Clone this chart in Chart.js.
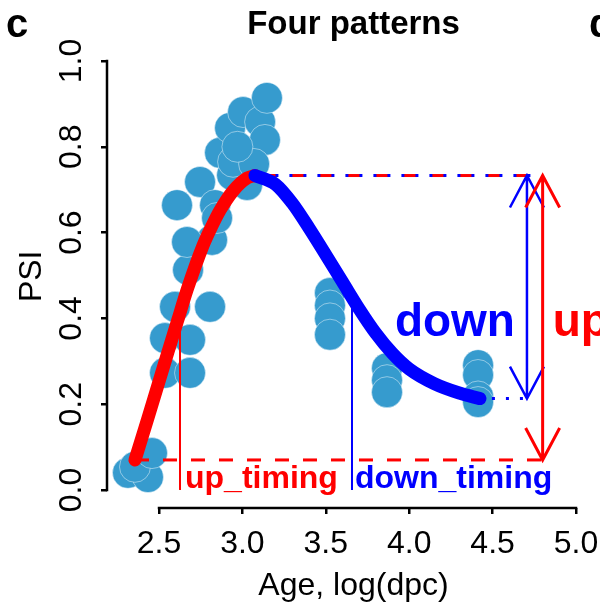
<!DOCTYPE html>
<html>
<head>
<meta charset="utf-8">
<title>Four patterns</title>
<script src="https://cdn.jsdelivr.net/npm/chart.js@4.4.0/dist/chart.umd.min.js"></script>
<style>
  html, body { margin: 0; padding: 0; background: #fff; overflow: hidden; }
</style>
</head>
<body>
<canvas id="patternChart" width="600" height="607"></canvas>
<script>
// samples: age on log(dpc) scale and PSI
var ageLog = [2.314, 2.434, 2.356, 2.458, 2.536, 2.686, 2.536, 2.686, 2.596, 2.806,
              2.674, 2.818, 2.668, 2.608, 2.746, 2.866, 3.028, 2.926, 3.004, 3.106,
              3.147, 3.135, 3.028, 2.836, 2.938, 2.848, 2.944, 3.07, 2.97,
              3.525, 3.525, 3.525, 3.525, 3.867, 3.867, 3.867, 4.413, 4.413, 4.413, 4.413];
var psiValue = [0.040, 0.030, 0.054, 0.086, 0.273, 0.273, 0.354, 0.350, 0.427, 0.427,
                0.513, 0.583, 0.578, 0.664, 0.718, 0.786, 0.788, 0.844, 0.881, 0.858,
                0.914, 0.816, 0.711, 0.664, 0.734, 0.634, 0.765, 0.760, 0.800,
                0.459, 0.430, 0.400, 0.362, 0.284, 0.256, 0.228, 0.291, 0.268, 0.218, 0.205];

// fitted rising part
var upFitAge = [2.356, 2.434, 2.494, 2.554, 2.614, 2.668, 2.764, 2.818, 2.866, 2.944, 3.028, 3.075];
var upFitPsi = [0.070, 0.168, 0.245, 0.322, 0.398, 0.466, 0.570, 0.616, 0.652, 0.697, 0.727, 0.733];

// fitted falling part
var downFitAge = [3.075, 3.20, 3.30, 3.40, 3.50, 3.60, 3.70, 3.80, 3.90, 4.00, 4.15, 4.30, 4.424];
var downFitPsi = [0.733, 0.712, 0.668, 0.610, 0.548, 0.485, 0.422, 0.365, 0.318, 0.282, 0.248, 0.226, 0.213];

var xTicks = [2.5, 3.0, 3.5, 4.0, 4.5, 5.0];
var yTicks = [0.0, 0.2, 0.4, 0.6, 0.8, 1.0];

// pattern summary
var psiLow = 0.07, psiPeak = 0.733, psiEnd = 0.213;
var lowAge = 2.356, peakAge = 3.075, endAge = 4.424;
var upTiming = 2.626, downTiming = 3.657;
var upArrowAge = 4.80, downArrowAge = 4.706;
var bigLabelPsi = 0.36;

var RED = '#ff0000', BLUE = '#0000ff', DOT = 'rgb(54,155,206)';
var FONT = '"Liberation Sans", Arial, Helvetica, sans-serif';

Chart.defaults.font.family = FONT;
Chart.defaults.color = '#000';

function toPoints(xs, ys) {
  return xs.map(function (v, i) { return { x: v, y: ys[i] }; });
}

function line(ctx, x1, y1, x2, y2, color, width, dash, offset) {
  ctx.strokeStyle = color;
  ctx.lineWidth = width;
  ctx.setLineDash(dash || []);
  ctx.lineDashOffset = offset || 0;
  ctx.beginPath();
  ctx.moveTo(x1, y1);
  ctx.lineTo(x2, y2);
  ctx.stroke();
}

function doubleArrow(ctx, px, top, bottom, color, width) {
  var dx = 17, dy = 32;
  ctx.strokeStyle = color;
  ctx.lineWidth = width;
  ctx.setLineDash([]);
  ctx.beginPath();
  ctx.moveTo(px, top); ctx.lineTo(px, bottom);
  ctx.moveTo(px - dx, top + dy); ctx.lineTo(px, top); ctx.lineTo(px + dx, top + dy);
  ctx.moveTo(px - dx, bottom - dy); ctx.lineTo(px, bottom); ctx.lineTo(px + dx, bottom - dy);
  ctx.stroke();
}

var patternMarks = {
  id: 'patternMarks',
  // timing segments and level lines go over the dots but under the fit
  afterDatasetDraw: function (chart, args) {
    if (args.index !== 0) return;
    var x = chart.scales.x, y = chart.scales.y, ctx = chart.ctx;
    ctx.save();
    var upX = x.getPixelForValue(upTiming), downX = x.getPixelForValue(downTiming);
    line(ctx, upX, y.getPixelForValue(0), upX, y.getPixelForValue((psiLow + psiPeak) / 2), RED, 2);
    line(ctx, downX, y.getPixelForValue(0), downX, y.getPixelForValue((psiPeak + psiEnd) / 2), BLUE, 2);

    var yPeak = y.getPixelForValue(psiPeak), yLow = y.getPixelForValue(psiLow), yEnd = y.getPixelForValue(psiEnd);
    line(ctx, x.getPixelForValue(lowAge), yLow, x.getPixelForValue(upArrowAge), yLow, RED, 3, [14, 14]);
    line(ctx, x.getPixelForValue(peakAge) + 8, yPeak, x.getPixelForValue(upArrowAge) - 8, yPeak, RED, 3, [14, 14]);
    line(ctx, x.getPixelForValue(peakAge) + 8, yPeak, x.getPixelForValue(upArrowAge) - 8, yPeak, BLUE, 3, [3, 11], 1.5);
    line(ctx, x.getPixelForValue(endAge) + 12, yEnd, x.getPixelForValue(downArrowAge), yEnd, BLUE, 3, [3, 11]);
    ctx.restore();
  },
  afterDatasetsDraw: function (chart) {
    var x = chart.scales.x, y = chart.scales.y, ctx = chart.ctx;
    ctx.save();
    doubleArrow(ctx, x.getPixelForValue(downArrowAge), y.getPixelForValue(psiPeak), y.getPixelForValue(psiEnd), BLUE, 2.5);
    doubleArrow(ctx, x.getPixelForValue(upArrowAge), y.getPixelForValue(psiPeak), y.getPixelForValue(psiLow), RED, 3);

    ctx.textBaseline = 'alphabetic';
    var base = y.getPixelForValue(0) - 2;
    ctx.font = 'bold 32px ' + FONT;
    ctx.textAlign = 'left';
    ctx.fillStyle = RED;
    ctx.fillText('up_timing', x.getPixelForValue(upTiming) + 5, base);
    ctx.fillStyle = BLUE;
    ctx.fillText('down_timing', x.getPixelForValue(downTiming) + 3, base);

    var big = y.getPixelForValue(bigLabelPsi);
    ctx.font = 'bold 46px ' + FONT;
    ctx.textAlign = 'right';
    ctx.fillText('down', x.getPixelForValue(downArrowAge) - 12, big);
    ctx.textAlign = 'left';
    ctx.fillStyle = RED;
    ctx.fillText('up', x.getPixelForValue(upArrowAge) + 10, big);
    ctx.restore();
  },
  // R style axis lines that run only from first to last tick, plus panel letters
  afterDraw: function (chart) {
    var x = chart.scales.x, y = chart.scales.y, ctx = chart.ctx, area = chart.chartArea;
    ctx.save();
    line(ctx, x.getPixelForValue(xTicks[0]) - 1.25, area.bottom, x.getPixelForValue(xTicks[xTicks.length - 1]) + 1.25, area.bottom, '#000', 2.5);
    line(ctx, area.left, y.getPixelForValue(yTicks[0]) + 1.25, area.left, y.getPixelForValue(yTicks[yTicks.length - 1]) - 1.25, '#000', 2.5);
    ctx.fillStyle = '#000';
    ctx.font = 'bold 40px ' + FONT;
    ctx.textAlign = 'left';
    ctx.textBaseline = 'alphabetic';
    ctx.fillText('c', 6, 37);
    ctx.fillText('d', 589, 37);
    ctx.restore();
  }
};

new Chart(document.getElementById('patternChart'), {
  type: 'scatter',
  data: {
    datasets: [
      {
        label: 'samples',
        data: toPoints(ageLog, psiValue),
        order: 2,
        pointRadius: 15.5,
        pointHoverRadius: 15.5,
        pointBackgroundColor: DOT,
        pointBorderColor: 'rgba(255,255,255,0.45)',
        pointBorderWidth: 1
      },
      {
        label: 'up',
        data: toPoints(upFitAge, upFitPsi),
        order: 1,
        showLine: true,
        borderColor: RED,
        borderWidth: 13,
        borderCapStyle: 'round',
        borderJoinStyle: 'round',
        cubicInterpolationMode: 'monotone',
        pointRadius: 0
      },
      {
        label: 'down',
        data: toPoints(downFitAge, downFitPsi),
        order: 0,
        showLine: true,
        borderColor: BLUE,
        borderWidth: 13,
        borderCapStyle: 'round',
        borderJoinStyle: 'round',
        cubicInterpolationMode: 'monotone',
        pointRadius: 0
      }
    ]
  },
  options: {
    responsive: false,
    animation: false,
    events: [],
    layout: { padding: 0, autoPadding: false },
    plugins: {
      legend: { display: false },
      tooltip: { enabled: false },
      title: {
        display: true,
        text: 'Four patterns',
        fullSize: false,
        color: '#000',
        font: { size: 33, weight: 'bold' },
        padding: { top: 5, bottom: 0 }
      }
    },
    scales: {
      x: {
        type: 'linear',
        min: 2.1882,
        max: 5.1439,
        afterFit: function (s) { s.height = 99; s.paddingLeft = 0; s.paddingRight = 0; },
        afterBuildTicks: function (s) { s.ticks = xTicks.map(function (v) { return { value: v }; }); },
        border: { display: false },
        grid: { drawOnChartArea: false, drawTicks: true, tickLength: 6, color: '#000', lineWidth: 2.5 },
        ticks: {
          autoSkip: false, maxRotation: 0, padding: 11,
          font: { size: 32 }, color: '#000',
          callback: function (v) { return Number(v).toFixed(1); }
        },
        title: { display: true, text: 'Age, log(dpc)', font: { size: 32 }, color: '#000', padding: { top: 0, bottom: 2 } }
      },
      y: {
        type: 'linear',
        min: -0.042,
        max: 1.0382,
        afterFit: function (s) { s.width = 107; s.paddingTop = 0; s.paddingBottom = 0; },
        afterBuildTicks: function (s) { s.ticks = yTicks.map(function (v) { return { value: v }; }); },
        border: { display: false },
        grid: { drawOnChartArea: false, drawTicks: true, tickLength: 6, color: '#000', lineWidth: 2.5 },
        ticks: {
          autoSkip: false, minRotation: 90, maxRotation: 90, crossAlign: 'center', padding: 7,
          font: { size: 32 }, color: '#000',
          callback: function (v) { return Number(v).toFixed(1); }
        },
        title: { display: true, text: 'PSI', font: { size: 32 }, color: '#000', padding: { top: 13, bottom: 0 } }
      }
    }
  },
  plugins: [patternMarks]
});
</script>
</body>
</html>
